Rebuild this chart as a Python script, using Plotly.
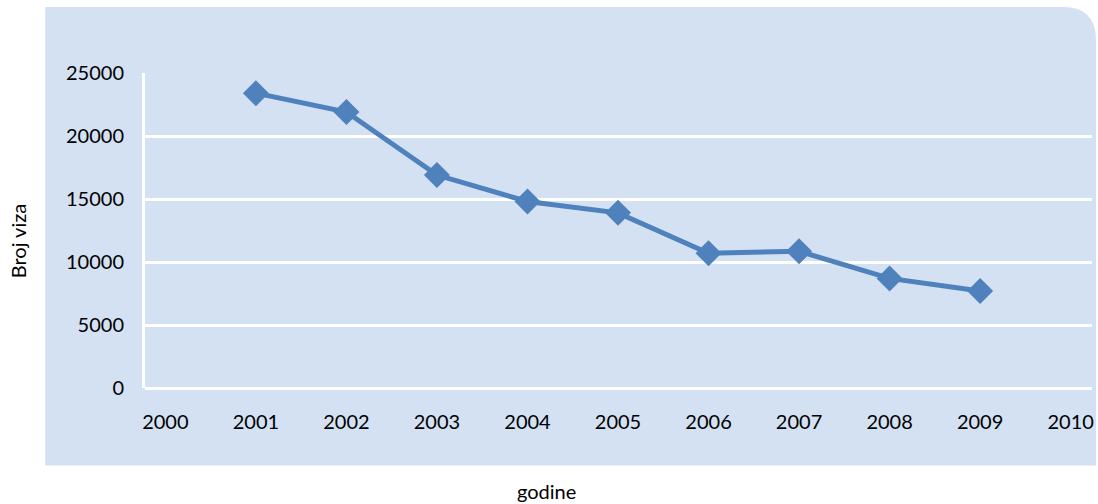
import plotly.graph_objects as go

years = ["2000", "2001", "2002", "2003", "2004", "2005", "2006", "2007", "2008", "2009", "2010"]
visas = [None, 23400, 21900, 16900, 14800, 13900, 10700, 10850, 8700, 7700, None]
y_ticks = [0, 5000, 10000, 15000, 20000, 25000]

BG = "#D3E1F3"
LINE = "#4F81BD"
FONT = "Lato"

W, H = 1098, 504
L, R, T, B = 145, 4, 73, 116
pw, ph = W - L - R, H - T - B

def px_x(p):
    return (p - L) / pw

def px_y(p):
    return (H - B - p) / ph

fig = go.Figure()
fig.add_trace(go.Scatter(
    x=years, y=visas, mode="lines+markers",
    line=dict(color=LINE, width=5),
    marker=dict(symbol="diamond", size=20, color=LINE),
    showlegend=False, hoverinfo="x+y",
))

x0, x1 = px_x(45), px_x(1098)
y0, y1 = px_y(465.5), px_y(7)
rx, ry = 33 / pw, 33 / ph
path = (f"M {x0},{y0} L {x1},{y0} L {x1},{y1 - ry} "
        f"Q {x1},{y1} {x1 - rx},{y1} L {x0},{y1} Z")

fig.update_layout(
    width=W, height=H,
    margin=dict(l=L, r=R, t=T, b=B, pad=0),
    paper_bgcolor="white",
    plot_bgcolor="rgba(0,0,0,0)",
    font=dict(family=FONT, size=20, color="black"),
    shapes=[dict(type="path", path=path, xref="paper", yref="paper",
                 fillcolor=BG, line=dict(width=0), layer="below")],
    annotations=[
        dict(text="godine", x=px_x(547), y=px_y(491), xref="paper", yref="paper",
             showarrow=False, font=dict(family=FONT, size=20, color="black"),
             xanchor="center", yanchor="middle"),
        dict(text="Broj viza", x=px_x(18), y=px_y(241), xref="paper", yref="paper",
             showarrow=False, textangle=-90, font=dict(family=FONT, size=20, color="black"),
             xanchor="center", yanchor="middle"),
    ],
)

fig.update_xaxes(
    type="category", categoryorder="array", categoryarray=years,
    range=[-0.225, 10.236],
    showgrid=False, zeroline=False, showline=False,
    ticks="", ticklabelstandoff=20,
    tickfont=dict(family=FONT, size=20, color="black"),
)
fig.update_yaxes(
    range=[0, 25000], tickvals=y_ticks, tickformat="d",
    showgrid=True, gridcolor="white", gridwidth=3,
    zeroline=True, zerolinecolor="white", zerolinewidth=3,
    showline=True, linecolor="white", linewidth=3,
    ticks="", ticklabelstandoff=14,
    tickfont=dict(family=FONT, size=20, color="black"),
)

fig.write_html(
    "out.html",
    config={"displayModeBar": False},
    post_script="document.body.style.margin='0';document.body.style.overflow='hidden';",
)
